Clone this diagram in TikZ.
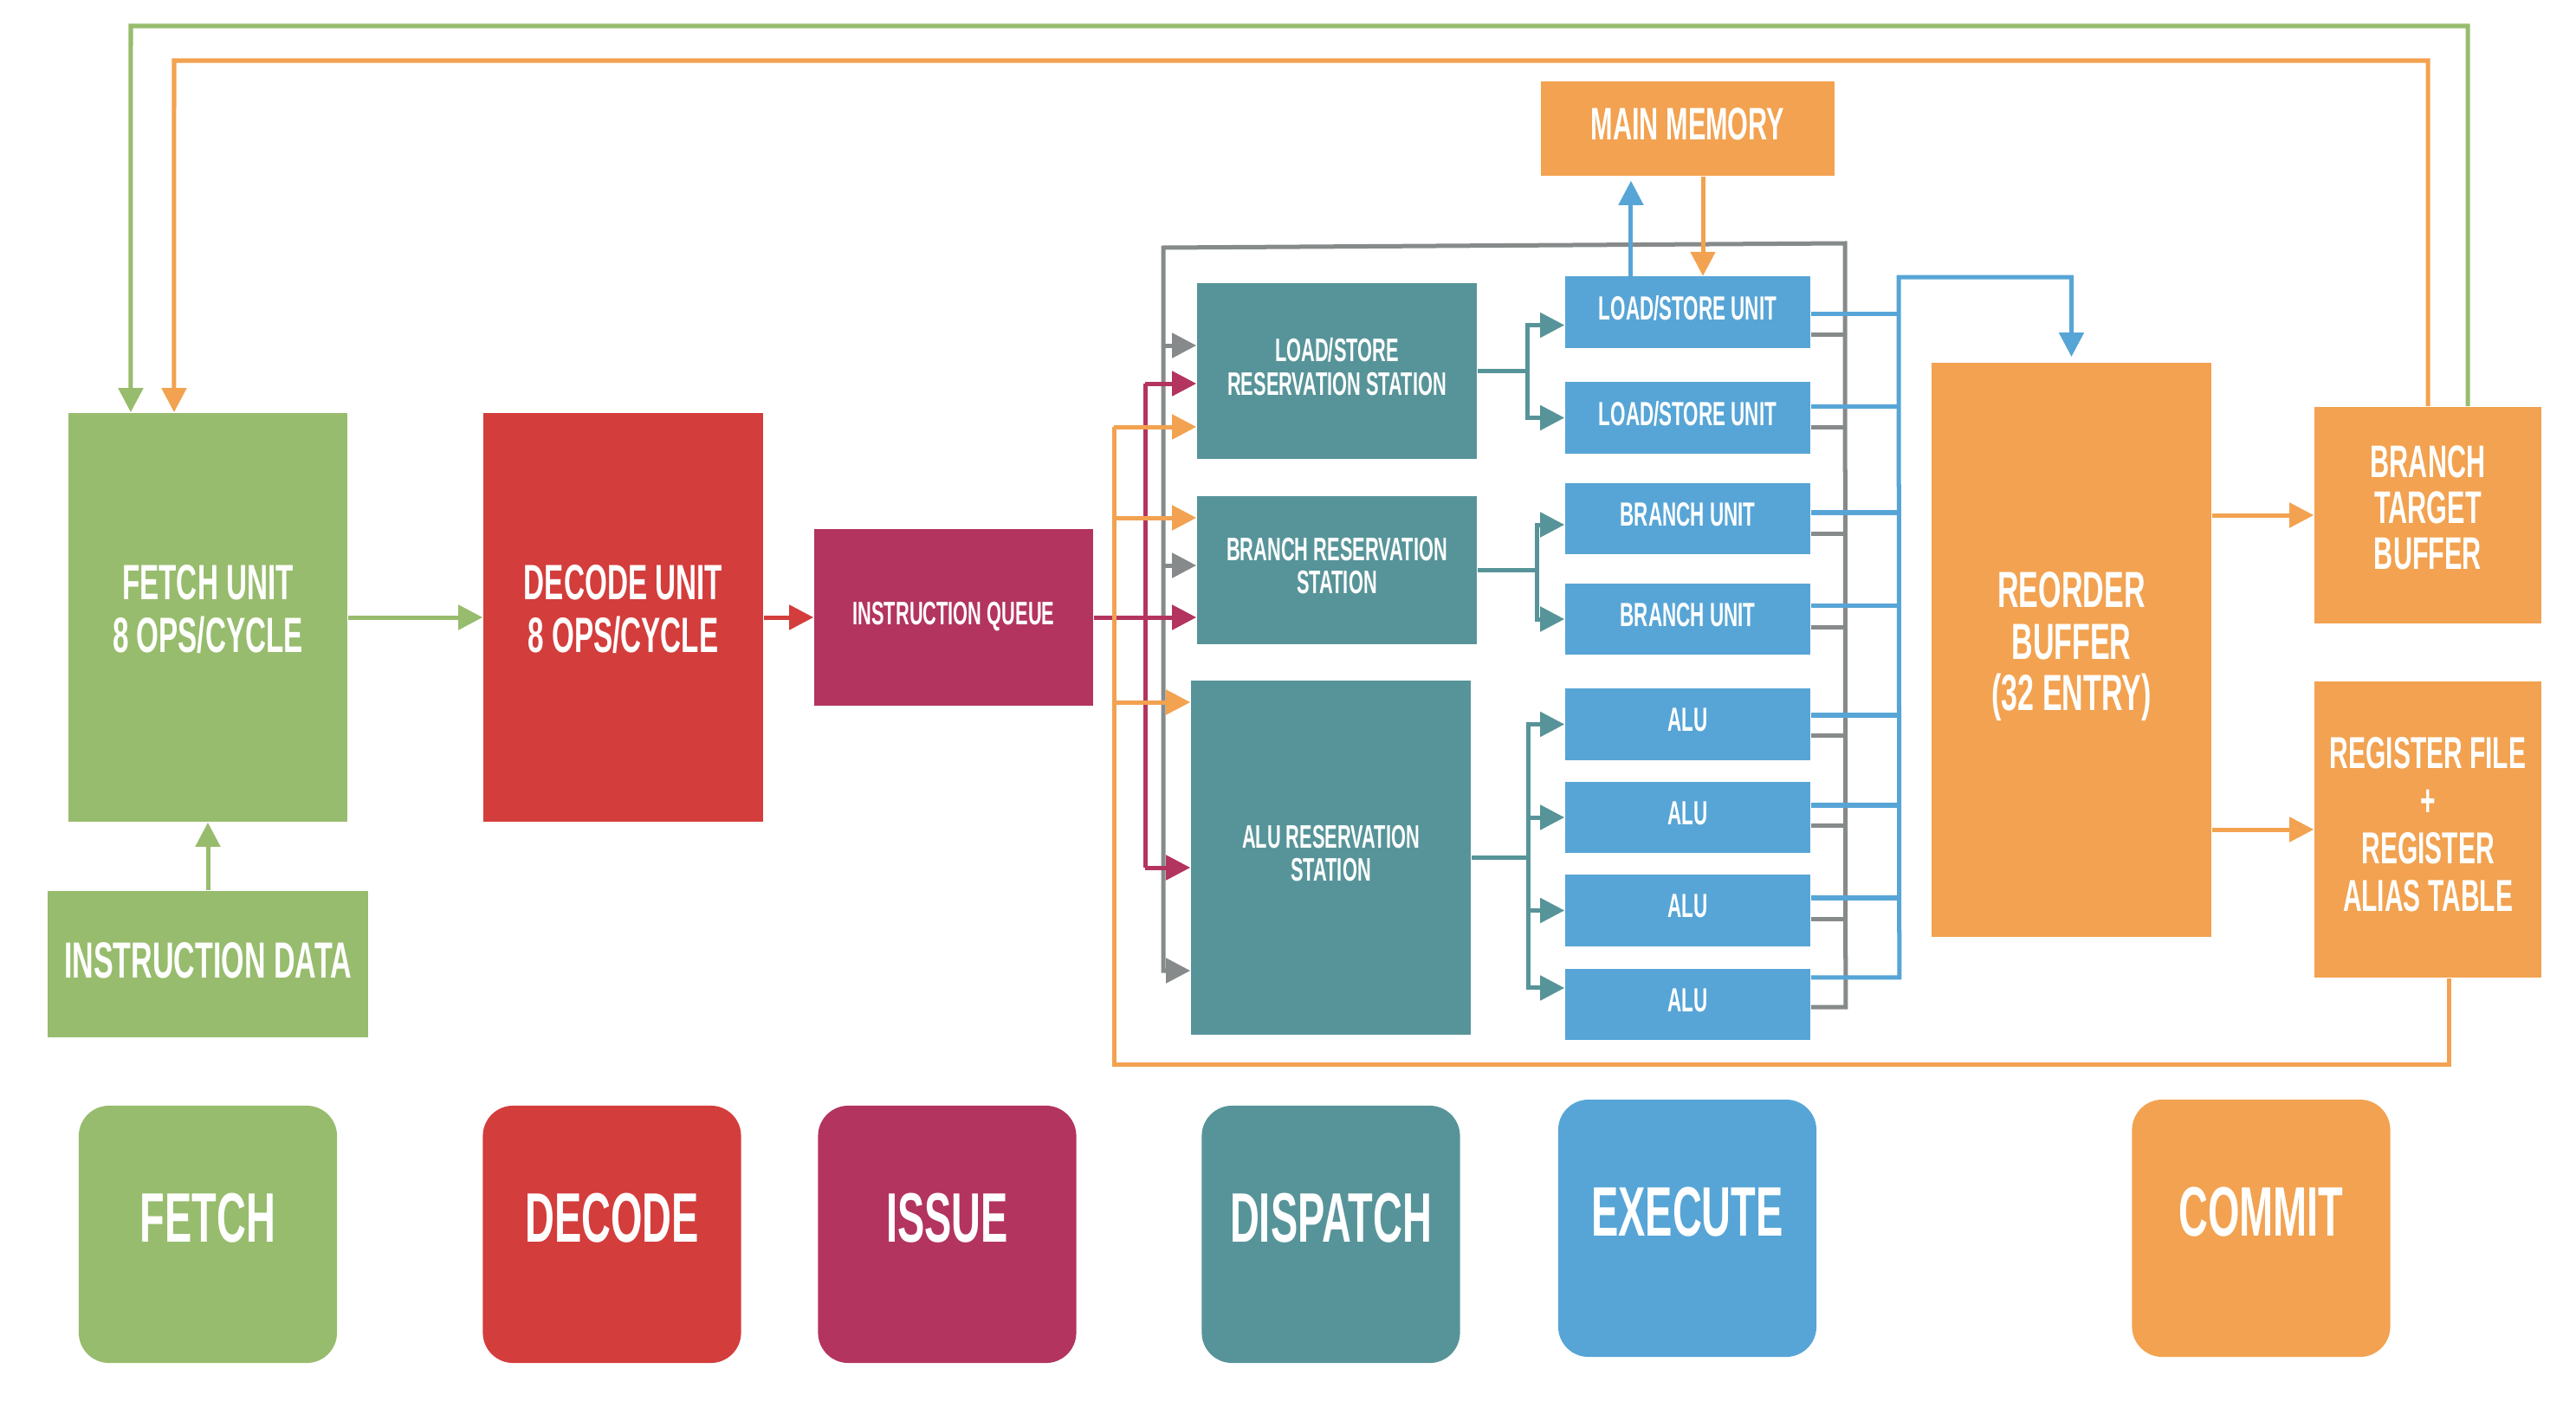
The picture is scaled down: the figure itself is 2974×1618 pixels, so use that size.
\documentclass[tikz,border=0pt]{standalone}
\usepackage{fontspec}
\setmainfont{Liberation Sans}[FakeStretch=0.58]
\usetikzlibrary{arrows.meta}
\definecolor{fetchgreen}{HTML}{97BC6D}
\definecolor{decodered}{HTML}{D33D3C}
\definecolor{issuemag}{HTML}{B3345F}
\definecolor{dispteal}{HTML}{579499}
\definecolor{execblue}{HTML}{57A5D6}
\definecolor{commitorange}{HTML}{F2A250}
\definecolor{busgray}{HTML}{868A8A}
\tikzset{
  blk/.style={fill=#1, text=white, inner sep=0pt, align=center, text depth=.1cm},
  stagebox/.style={blk=#1, rounded corners=.35cm, minimum width=2.98cm, minimum height=2.97cm, text depth=.38cm, font=\bfseries\fontsize{23}{26}\selectfont},
  eu/.style={blk=execblue, minimum width=2.83cm, minimum height=.82cm, font=\bfseries\fontsize{11}{13}\selectfont},
  rs/.style={blk=dispteal, minimum width=3.23cm, font=\bfseries\fontsize{10.7}{11}\selectfont},
  wire/.style={draw=#1, line width=.05cm},
  feed/.style={wire=#1, -{Triangle[length=.28cm,width=.28cm]}},
}
\begin{document}
\begin{tikzpicture}[x=0.01cm,y=-0.01cm]
\useasboundingbox (0,0) rectangle (2974,1618);
% front end
\node[blk=fetchgreen, minimum width=3.22cm, minimum height=4.72cm, text depth=.2cm, font=\bfseries\fontsize{16.3}{17.1}\selectfont] (fetch) at (240,713) {FETCH UNIT\\8 OPS/CYCLE};
\node[blk=fetchgreen, minimum width=3.70cm, minimum height=1.69cm, font=\bfseries\fontsize{16.7}{18}\selectfont] (idata) at (240,1113.5) {INSTRUCTION DATA};
\node[blk=decodered, minimum width=3.23cm, minimum height=4.72cm, text depth=.2cm, font=\bfseries\fontsize{16.3}{17.1}\selectfont] (decode) at (719.5,713) {DECODE UNIT\\8 OPS/CYCLE};
\node[blk=issuemag, minimum width=3.22cm, minimum height=2.04cm, font=\bfseries\fontsize{10.7}{12}\selectfont] (iq) at (1101,713) {INSTRUCTION QUEUE};
% reservation stations
\node[rs, minimum height=2.03cm] (lsrs) at (1543.5,428.5) {LOAD/STORE\\RESERVATION STATION};
\node[rs, minimum height=1.71cm] (brrs) at (1543.5,658.5) {BRANCH RESERVATION\\STATION};
\node[rs, minimum height=4.09cm] (alurs) at (1536.5,990.5) {ALU RESERVATION\\STATION};
% execution units
\node[eu] (ls1) at (1948.5,360.5) {LOAD/STORE UNIT};
\node[eu] (ls2) at (1948.5,482.5) {LOAD/STORE UNIT};
\node[eu] (br1) at (1948.5,599) {BRANCH UNIT};
\node[eu] (br2) at (1948.5,715) {BRANCH UNIT};
\node[eu] (alu1) at (1948.5,836.5) {ALU};
\node[eu] (alu2) at (1948.5,944) {ALU};
\node[eu] (alu3) at (1948.5,1051.5) {ALU};
\node[eu] (alu4) at (1948.5,1160) {ALU};
% memory and commit
\node[blk=commitorange, minimum width=3.39cm, minimum height=1.09cm, font=\bfseries\fontsize{15}{16}\selectfont] (mm) at (1948.5,148.5) {MAIN MEMORY};
\node[blk=commitorange, minimum width=3.23cm, minimum height=6.63cm, text depth=.2cm, font=\bfseries\fontsize{16.7}{16.8}\selectfont] (rob) at (2391.5,750.5) {REORDER\\BUFFER\\(32 ENTRY)};
\node[blk=commitorange, minimum width=2.62cm, minimum height=2.50cm, text depth=.18cm, font=\bfseries\fontsize{15}{15}\selectfont] (btb) at (2803,595) {BRANCH\\TARGET\\BUFFER};
\node[blk=commitorange, minimum width=2.62cm, minimum height=3.42cm, text depth=.12cm, font=\bfseries\fontsize{14.7}{15.6}\selectfont] (rf) at (2803,958) {REGISTER FILE\\+\\REGISTER\\ALIAS TABLE};
% stage legend
\node[stagebox=fetchgreen] (sfetch) at (240,1425.5) {FETCH};
\node[stagebox=decodered] (sdecode) at (706.5,1425.5) {DECODE};
\node[stagebox=issuemag] (sissue) at (1093.5,1425.5) {ISSUE};
\node[stagebox=dispteal] (sdispatch) at (1536.5,1425.5) {DISPATCH};
\node[stagebox=execblue] (sexecute) at (1948,1418.5) {EXECUTE};
\node[stagebox=commitorange] (scommit) at (2610.5,1418.5) {COMMIT};

% junction points
\coordinate (gtl) at (1343,286);
\coordinate (gtr) at (2130,281);
\coordinate (g1) at (1343,399);
\coordinate (g2) at (1343,653);
\coordinate (g3) at (1343,1121);
\coordinate (m1) at (1322,443);
\coordinate (m3) at (1322,1002);
\coordinate (o1) at (1286,493);
\coordinate (o2) at (1286,598);
\coordinate (o3) at (1286,811);
\coordinate (obl) at (1286,1229);
\coordinate (bbus) at (2192,320);
\coordinate (lsfork) at (1763,428.5);
\coordinate (brfork) at (1774,658.5);
\coordinate (alufork) at (1764,990.5);
\coordinate (oret) at (201,70);
\coordinate (gret) at (151,30);

% front end flow
\draw[feed=fetchgreen] (idata) -- (fetch);
\draw[feed=fetchgreen] (fetch) -- (decode);
\draw[feed=decodered] (decode) -- (iq);

% results back to the stations
\draw[wire=busgray] ([yshift=-.255cm]ls1.east) -- ++(40,0);
\draw[wire=busgray] ([yshift=-.105cm]ls2.east) -- ++(40,0);
\draw[wire=busgray] ([yshift=-.17cm]br1.east) -- ++(40,0);
\draw[wire=busgray] ([yshift=-.09cm]br2.east) -- ++(40,0);
\draw[wire=busgray] ([yshift=-.125cm]alu1.east) -- ++(40,0);
\draw[wire=busgray] ([yshift=-.09cm]alu2.east) -- ++(40,0);
\draw[wire=busgray] ([yshift=-.095cm]alu3.east) -- ++(40,0);
\draw[feed=busgray] ([yshift=-.03cm]alu4.east) -- ++(40,0) -- (gtr) -- (gtl) -- (g3) -- (alurs.west |- g3);
\draw[feed=busgray] (g1) -- (lsrs.west |- g1);
\draw[feed=busgray] (g2) -- (brrs.west |- g2);

% issue
\draw[wire=issuemag] (m1) -- (m3);
\draw[feed=issuemag] (iq) -- (brrs.west |- iq);
\draw[feed=issuemag] (m1) -- (lsrs.west |- m1);
\draw[feed=issuemag] (m3) -- (alurs.west |- m3);

% register values
\draw[wire=commitorange] ([xshift=.24cm]rf.south) |- (obl) -- (o1);
\draw[feed=commitorange] (o1) -- (lsrs.west |- o1);
\draw[feed=commitorange] (o2) -- (brrs.west |- o2);
\draw[feed=commitorange] (o3) -- (alurs.west |- o3);

% dispatch
\draw[wire=dispteal] (lsrs) -- (lsfork);
\draw[feed=dispteal] (lsfork) |- ([yshift=-.15cm]ls1.west);
\draw[feed=dispteal] (lsfork) |- (ls2);
\draw[wire=dispteal] (brrs) -- (brfork);
\draw[feed=dispteal] (brfork) |- ([yshift=-.07cm]br1.west);
\draw[feed=dispteal] (brfork) |- (br2);
\draw[wire=dispteal] (alurs) -- (alufork);
\draw[feed=dispteal] (alufork) |- (alu1);
\draw[feed=dispteal] (alufork) |- (alu2);
\draw[feed=dispteal] (alufork) |- (alu3);
\draw[feed=dispteal] (alufork) |- ([yshift=.19cm]alu4.west);

% memory
\draw[feed=execblue] ([xshift=-.655cm]ls1.north) -- ([xshift=-.655cm,yshift=-.05cm]mm.south);
\draw[feed=commitorange] ([xshift=.175cm]mm.south) -- ([xshift=.175cm]ls1.north);

% results to reorder buffer
\draw[wire=execblue] ([yshift=-.015cm]ls1.east) -- ++(102,0);
\draw[wire=execblue] ([yshift=.125cm]ls2.east) -- ++(102,0);
\draw[wire=execblue] ([yshift=.07cm]br1.east) -- ++(102,0);
\draw[wire=execblue] ([yshift=.15cm]br2.east) -- ++(102,0);
\draw[wire=execblue] ([yshift=.105cm]alu1.east) -- ++(102,0);
\draw[wire=execblue] ([yshift=.14cm]alu2.east) -- ++(102,0);
\draw[wire=execblue] ([yshift=.145cm]alu3.east) -- ++(102,0);
\draw[feed=execblue] ([yshift=.31cm]alu4.east) -- ++(102,0) -- (bbus) -| ([yshift=.06cm]rob.north);

% commit
\draw[feed=commitorange] (rob.east |- btb) -- (btb);
\draw[feed=commitorange] (rob.east |- rf) -- (rf);
\draw[feed=commitorange] (btb.north) |- (oret) -- ([xshift=-.39cm]fetch.north);
\draw[feed=fetchgreen] ([xshift=.46cm]btb.north) |- (gret) -- ([xshift=-.89cm]fetch.north);
\end{tikzpicture}
\end{document}
